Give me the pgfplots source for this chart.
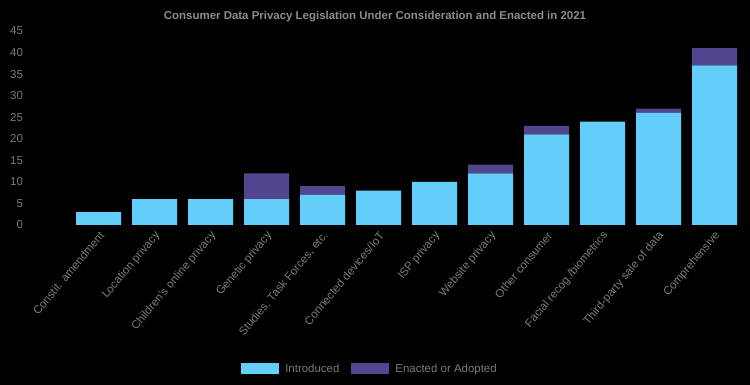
\documentclass[border=0pt]{standalone}
\usepackage{pgfplots}
\pgfplotsset{compat=1.18}
\usepackage{fontspec}
\setmainfont{Liberation Sans}
\definecolor{intro}{HTML}{64CEFA}
\definecolor{enact}{HTML}{52468F}
\definecolor{lbl}{HTML}{7A7A7A}
\definecolor{ttl}{HTML}{8C8C8C}
\begin{document}
\begin{tikzpicture}
\path[use as bounding box, fill=black] (0,0) rectangle (750bp,385bp);
\node[font=\fontsize{11.5}{13}\selectfont\bfseries, text=ttl] at (375bp,368bp) {Consumer Data Privacy Legislation Under Consideration and Enacted in 2021};
\begin{axis}[
 at={(70.5bp,160bp)}, anchor=south west,
 scale only axis, width=672bp, height=194bp,
 xmin=-0.5, xmax=11.5, ymin=0, ymax=45,
 ybar stacked, bar width=45bp,
 axis line style={draw=none},
 major tick length=0pt,
 ytick={0,5,...,45},
 xtick={0,...,11},
 xticklabels={Constit. amendment, Location privacy, Children's online privacy, Genetic privacy, {Studies, Task Forces, etc.}, Connected devices/IoT, ISP privacy, Website privacy, Other consumer, Facial recog./biometrics, Third-party sale of data, Comprehensive},
 tick label style={font=\fontsize{11.5}{13}\selectfont, text=lbl},
 /pgf/number format/assume math mode=true,
 yticklabel style={anchor=east, xshift=-44bp},
 xticklabel style={rotate=50, anchor=east, yshift=-8bp, xshift=-1bp},
 legend columns=2,
 legend style={at={(0.4457,-0.742)}, anchor=center, draw=none, fill=none, text=lbl,
   font=\fontsize{11.5}{13}\selectfont,
   /tikz/every odd column/.append style={column sep=4bp},
   /tikz/every even column/.append style={column sep=10bp}},
 legend image code/.code={\fill[#1] (0bp,-5.5bp) rectangle (38bp,5.5bp);},
]
\addplot[fill=intro, draw=none] coordinates {(0,3) (1,6) (2,6) (3,6) (4,7) (5,8) (6,10) (7,12) (8,21) (9,24) (10,26) (11,37)};
\addplot[fill=enact, draw=none] coordinates {(0,0) (1,0) (2,0) (3,6) (4,2) (5,0) (6,0) (7,2) (8,2) (9,0) (10,1) (11,4)};
\legend{Introduced, Enacted or Adopted}
\end{axis}
\end{tikzpicture}
\end{document}
